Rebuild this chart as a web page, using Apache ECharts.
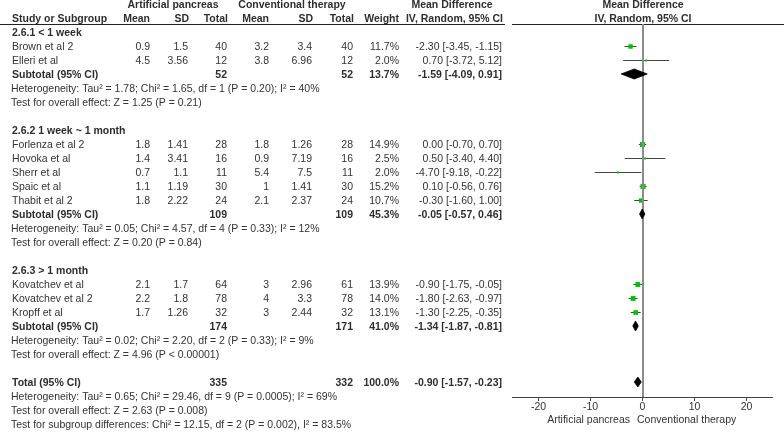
<!DOCTYPE html>
<html>
<head>
<meta charset="utf-8">
<script src="https://cdn.jsdelivr.net/npm/echarts@6/dist/echarts.min.js"></script>
<style>html,body{margin:0;padding:0;background:#fff;}#c{width:784px;height:433px;}</style>
</head>
<body>
<div id="c"></div>
<script>
// ---------- data ----------
const groupNames = ['2.6.1 < 1 week', '2.6.2 1 week ~ 1 month', '2.6.3 > 1 month'];
const studies = ['Brown et al 2', 'Elleri et al', 'Forlenza et al 2', 'Hovoka et al', 'Sherr et al', 'Spaic et al', 'Thabit et al 2', 'Kovatchev et al', 'Kovatchev et al 2', 'Kropff et al'];
const studyGroup = [0, 0, 1, 1, 1, 1, 1, 2, 2, 2];
const apMean = [0.9, 4.5, 1.8, 1.4, 0.7, 1.1, 1.8, 2.1, 2.2, 1.7];
const apSD = [1.5, 3.56, 1.41, 3.41, 1.1, 1.19, 2.22, 1.7, 1.8, 1.26];
const apTotal = [40, 12, 28, 16, 11, 30, 24, 64, 78, 32];
const ctMean = [3.2, 3.8, 1.8, 0.9, 5.4, 1, 2.1, 3, 4, 3];
const ctSD = [3.4, 6.96, 1.26, 7.19, 7.5, 1.41, 2.37, 2.96, 3.3, 2.44];
const ctTotal = [40, 12, 28, 16, 11, 30, 24, 61, 78, 32];
const weight = [11.7, 2.0, 14.9, 2.5, 2.0, 15.2, 10.7, 13.9, 14.0, 13.1];
const md = [-2.30, 0.70, 0.00, 0.50, -4.70, 0.10, -0.30, -0.90, -1.80, -1.30];
const ciLow = [-3.45, -3.72, -0.70, -3.40, -9.18, -0.56, -1.60, -1.75, -2.63, -2.25];
const ciHigh = [-1.15, 5.12, 0.70, 4.40, -0.22, 0.76, 1.00, -0.05, -0.97, -0.35];

const subApTotal = [52, 109, 174];
const subCtTotal = [52, 109, 171];
const subWeight = [13.7, 45.3, 41.0];
const subMD = [-1.59, -0.05, -1.34];
const subLow = [-4.09, -0.57, -1.87];
const subHigh = [0.91, 0.46, -0.81];
const subHet = [
  'Heterogeneity: Tau\u00b2 = 1.78; Chi\u00b2 = 1.65, df = 1 (P = 0.20); I\u00b2 = 40%',
  'Heterogeneity: Tau\u00b2 = 0.05; Chi\u00b2 = 4.57, df = 4 (P = 0.33); I\u00b2 = 12%',
  'Heterogeneity: Tau\u00b2 = 0.02; Chi\u00b2 = 2.20, df = 2 (P = 0.33); I\u00b2 = 9%'
];
const subTest = [
  'Test for overall effect: Z = 1.25 (P = 0.21)',
  'Test for overall effect: Z = 0.20 (P = 0.84)',
  'Test for overall effect: Z = 4.96 (P < 0.00001)'
];
const totalApTotal = 335;
const totalCtTotal = 332;
const totalWeight = 100.0;
const totalMD = -0.90;
const totalLow = -1.57;
const totalHigh = -0.23;
const totalHet = 'Heterogeneity: Tau\u00b2 = 0.65; Chi\u00b2 = 29.46, df = 9 (P = 0.0005); I\u00b2 = 69%';
const totalTest = 'Test for overall effect: Z = 2.63 (P = 0.008)';
const subgroupTest = 'Test for subgroup differences: Chi\u00b2 = 12.15, df = 2 (P = 0.002), I\u00b2 = 83.5%';
const xTicks = [-20, -10, 0, 10, 20];
const favourLeft = 'Artificial pancreas';
const favourRight = 'Conventional therapy';

// ---------- layout constants ----------
const W = 784, H = 433;
const ROW0 = 32, ROWH = 14;           // pixel of row 0, row pitch
const FT = 'Liberation Sans, Arial, sans-serif';
const FS = 10.5;
const COL = { study: 12, apMean: 150, apSD: 188, apTotal: 227, ctMean: 269, ctSD: 312, ctTotal: 353, weight: 399, ci: 502 };
const FOREST = { left: 512.5, right: 11.5, top: 24, bottom: 36 };

const fmt2 = v => v.toFixed(2);
const ciText = (m, l, h) => fmt2(m) + ' [' + fmt2(l) + ', ' + fmt2(h) + ']';
const pct = v => v.toFixed(1) + '%';

// ---------- build table cells & forest data ----------
const cells = [];
function cell(x, row, text, align, bold) { cells.push({ x, row, text: String(text), align, bold: !!bold }); }
const studyPts = [];
const diamonds = [];

// headers
cell(173, -2, 'Artificial pancreas', 'center', true);
cell(292, -2, 'Conventional therapy', 'center', true);
cell(452, -2, 'Mean Difference', 'center', true);
cell(643, -2, 'Mean Difference', 'center', true);
cell(COL.study, -1, 'Study or Subgroup', 'left', true);
cell(COL.apMean, -1, 'Mean', 'right', true);
cell(COL.apSD + 1, -1, 'SD', 'right', true);
cell(COL.apTotal + 1, -1, 'Total', 'right', true);
cell(COL.ctMean, -1, 'Mean', 'right', true);
cell(COL.ctSD + 1, -1, 'SD', 'right', true);
cell(COL.ctTotal + 1, -1, 'Total', 'right', true);
cell(COL.weight, -1, 'Weight', 'right', true);
cell(COL.ci + 1, -1, 'IV, Random, 95% CI', 'right', true);
cell(643, -1, 'IV, Random, 95% CI', 'center', true);

let r = 0;
groupNames.forEach((g, gi) => {
  cell(COL.study, r, g, 'left', true); r++;
  studies.forEach((s, si) => {
    if (studyGroup[si] !== gi) return;
    cell(COL.study, r, s, 'left');
    cell(COL.apMean, r, apMean[si], 'right');
    cell(COL.apSD, r, apSD[si], 'right');
    cell(COL.apTotal, r, apTotal[si], 'right');
    cell(COL.ctMean, r, ctMean[si], 'right');
    cell(COL.ctSD, r, ctSD[si], 'right');
    cell(COL.ctTotal, r, ctTotal[si], 'right');
    cell(COL.weight, r, pct(weight[si]), 'right');
    cell(COL.ci, r, ciText(md[si], ciLow[si], ciHigh[si]), 'right');
    studyPts.push([md[si], r, ciLow[si], ciHigh[si], weight[si]]);
    r++;
  });
  cell(COL.study, r, 'Subtotal (95% CI)', 'left', true);
  cell(COL.apTotal, r, subApTotal[gi], 'right', true);
  cell(COL.ctTotal, r, subCtTotal[gi], 'right', true);
  cell(COL.weight, r, pct(subWeight[gi]), 'right', true);
  cell(COL.ci, r, ciText(subMD[gi], subLow[gi], subHigh[gi]), 'right', true);
  diamonds.push([subMD[gi], r, subLow[gi], subHigh[gi]]);
  r++;
  cell(COL.study - 1, r, subHet[gi], 'left'); r++;
  cell(COL.study - 1, r, subTest[gi], 'left'); r++;
  r++;
});
cell(COL.study, r, 'Total (95% CI)', 'left', true);
cell(COL.apTotal, r, totalApTotal, 'right', true);
cell(COL.ctTotal, r, totalCtTotal, 'right', true);
cell(COL.weight, r, pct(totalWeight), 'right', true);
cell(COL.ci, r, ciText(totalMD, totalLow, totalHigh), 'right', true);
diamonds.push([totalMD, r, totalLow, totalHigh]);
r++;
cell(COL.study - 1, r, totalHet, 'left'); r++;
cell(COL.study - 1, r, totalTest, 'left'); r++;
cell(COL.study - 1, r, subgroupTest, 'left'); r++;
cell(630, 27.64, favourLeft, 'right');
cell(637, 27.64, favourRight, 'left');

const tableData = cells.map((c, k) => [c.x, c.row, k]);

// ---------- chart ----------
const chart = echarts.init(document.getElementById('c'), null, { renderer: 'canvas' });
const rowOf = px => (px - ROW0) / ROWH;

chart.setOption({
  animation: false,
  backgroundColor: '#fff',
  grid: [
    { left: 0, right: 0, top: 0, bottom: 0 },
    { left: FOREST.left, right: FOREST.right, top: FOREST.top, bottom: FOREST.bottom }
  ],
  xAxis: [
    { gridIndex: 0, type: 'value', min: 0, max: W, show: false },
    {
      gridIndex: 1, type: 'value', min: -25, max: 25,
      axisLine: { show: true, onZero: false, lineStyle: { color: '#444', width: 1 } },
      axisTick: { show: true, length: 4, customValues: xTicks, lineStyle: { color: '#444' } },
      axisLabel: { customValues: xTicks, color: '#333', fontFamily: FT, fontSize: FS, margin: 5 },
      splitLine: { show: false }
    }
  ],
  yAxis: [
    { gridIndex: 0, type: 'value', inverse: true, min: rowOf(0), max: rowOf(H), show: false },
    { gridIndex: 1, type: 'value', inverse: true, min: rowOf(FOREST.top), max: rowOf(H - FOREST.bottom), show: false }
  ],
  graphic: [
    { type: 'line', shape: { x1: 0, y1: 24.5, x2: 505, y2: 24.5 }, style: { stroke: '#222', lineWidth: 1 } },
    { type: 'line', shape: { x1: 512, y1: 24.5, x2: 784, y2: 24.5 }, style: { stroke: '#222', lineWidth: 1 } }
  ],
  series: [
    {
      type: 'custom', coordinateSystem: 'cartesian2d', xAxisIndex: 0, yAxisIndex: 0,
      data: tableData, silent: true,
      renderItem: (params, api) => {
        const p = api.coord([api.value(0), api.value(1)]);
        const c = cells[api.value(2)];
        return {
          type: 'text', x: p[0], y: p[1] + 1,
          style: {
            text: c.text, align: c.align, verticalAlign: 'middle',
            font: (c.bold ? 'bold ' : '') + FS + 'px ' + FT,
            fill: c.bold ? '#2e2e2e' : '#333'
          }
        };
      }
    },
    {
      type: 'custom', coordinateSystem: 'cartesian2d', xAxisIndex: 1, yAxisIndex: 1,
      data: studyPts, silent: true,
      markLine: {
        silent: true, symbol: 'none', label: { show: false },
        lineStyle: { color: '#8c8c8c', width: 2, type: 'solid' },
        data: [{ xAxis: 0 }]
      },
      renderItem: (params, api) => {
        const y = api.value(1);
        const c = api.coord([api.value(0), y]);
        const l = api.coord([api.value(2), y]);
        const h = api.coord([api.value(3), y]);
        const s = Math.max(2, Math.sqrt(api.value(4)) * 1.3);
        const yy = Math.round(c[1]) + 0.5;
        return {
          type: 'group', z2: 10,
          children: [
            { type: 'line', shape: { x1: l[0], y1: yy, x2: h[0], y2: yy }, style: { stroke: '#444', lineWidth: 1 } },
            { type: 'rect', shape: { x: c[0] - s / 2, y: yy - s / 2, width: s, height: s }, style: { fill: '#00c000' } }
          ]
        };
      }
    },
    {
      type: 'custom', coordinateSystem: 'cartesian2d', xAxisIndex: 1, yAxisIndex: 1,
      data: diamonds, silent: true, z: 5,
      renderItem: (params, api) => {
        const y = api.value(1);
        const c = api.coord([api.value(0), y]);
        const l = api.coord([api.value(2), y]);
        const h = api.coord([api.value(3), y]);
        const hh = 5;
        return {
          type: 'polygon',
          shape: { points: [[l[0], c[1]], [c[0], c[1] - hh], [h[0], c[1]], [c[0], c[1] + hh]] },
          style: { fill: '#000', stroke: '#000', lineWidth: 0.8 }
        };
      }
    }
  ]
});
</script>
</body>
</html>
